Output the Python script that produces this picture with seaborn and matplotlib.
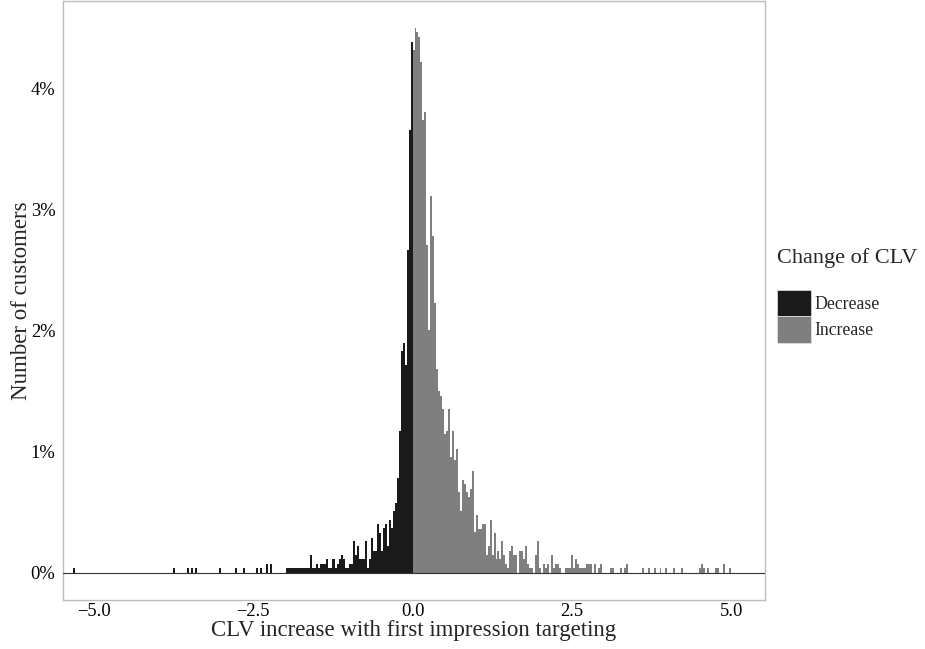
import numpy as np
import pandas as pd
import matplotlib
matplotlib.use('Agg')
import matplotlib.pyplot as plt
import seaborn as sns
from matplotlib.patches import Patch
from matplotlib.ticker import FuncFormatter

# width of one histogram bin (CLV units), bins start at zero
bin_width = 0.031

# % of customers per bin, left of zero (nearest bin first)
decrease_pct = [4.39, 3.66, 2.67, 1.72, 1.90, 1.83, 1.17, 0.78, 0.58, 0.51,
                0.37, 0.44, 0.22, 0.40, 0.37, 0.18, 0.33, 0.40, 0.18, 0.18,
                0.29, 0.11, 0.04, 0.26, 0.11, 0.11, 0.11, 0.22, 0.15, 0.26,
                0.07, 0.07, 0.04, 0.04, 0.11, 0.15, 0.11, 0.07, 0.04, 0.11,
                0.11, 0.04, 0.04, 0.11, 0.07, 0.07, 0.07, 0.04, 0.07, 0.04,
                0.04, 0.15, 0.04, 0.04, 0.04, 0.04, 0.04, 0.04, 0.04, 0.04,
                0.04, 0.04, 0.04, 0.04]
# % of customers per bin, right of zero (nearest bin first)
increase_pct = [4.32, 4.50, 4.47, 4.43, 4.22, 3.74, 3.81, 2.71, 2.01, 3.11,
                2.78, 2.23, 1.68, 1.50, 1.46, 1.35, 1.15, 1.17, 1.35, 0.96,
                1.17, 0.93, 1.02, 0.67, 0.51, 0.77, 0.73, 0.67, 0.63, 0.69,
                0.84, 0.34, 0.48, 0.36, 0.36, 0.40, 0.40, 0.15, 0.22, 0.44,
                0.15, 0.33, 0.11, 0.18, 0.11, 0.26, 0.15, 0.07, 0.04, 0.18,
                0.22, 0.15, 0.15, 0.00, 0.18, 0.18, 0.11, 0.22, 0.07, 0.04,
                0.04, 0.00, 0.15, 0.26, 0.04, 0.00, 0.07, 0.04, 0.07, 0.00,
                0.15, 0.04, 0.07, 0.07, 0.04, 0.00, 0.00, 0.04, 0.04, 0.04,
                0.15, 0.04, 0.11, 0.07, 0.04, 0.04, 0.04, 0.04, 0.07, 0.07,
                0.07, 0.00, 0.07, 0.00, 0.04, 0.07, 0.00, 0.00, 0.00, 0.00,
                0.04, 0.04]
# isolated customers far out in the tails
decrease_tail_x = [-5.32, -3.73, -3.53, -3.47, -3.41, -3.02, -2.76, -2.65,
                   -2.44, -2.37, -2.28, -2.21]
decrease_tail_pct = [0.04, 0.04, 0.04, 0.04, 0.04, 0.04, 0.04, 0.04,
                     0.04, 0.04, 0.07, 0.07]
increase_tail_x = [3.27, 3.33, 3.36, 3.61, 3.69, 3.80, 3.90, 3.99, 4.12,
                   4.23, 4.51, 4.54, 4.57, 4.62, 4.76, 4.79, 4.87, 4.99]
increase_tail_pct = [0.04, 0.04, 0.07, 0.04, 0.04, 0.04, 0.04, 0.04, 0.04,
                     0.04, 0.04, 0.07, 0.04, 0.04, 0.04, 0.04, 0.07, 0.04]

x_ticks = [-5.0, -2.5, 0.0, 2.5, 5.0]
y_ticks = [0, 1, 2, 3, 4]
groups = ['Decrease', 'Increase']
fill_colors = {'Decrease': '#1a1a1a', 'Increase': '#7f7f7f'}

# one row per bin centre, weighted with the share of customers
dec_x = [-(k + 0.5) * bin_width for k in range(len(decrease_pct))]
inc_x = [(k + 0.5) * bin_width for k in range(len(increase_pct))]
df = pd.DataFrame({
    'clv': dec_x + decrease_tail_x + inc_x + increase_tail_x,
    'pct': decrease_pct + decrease_tail_pct + increase_pct + increase_tail_pct,
    'change': ['Decrease'] * (len(dec_x) + len(decrease_tail_x))
              + ['Increase'] * (len(inc_x) + len(increase_tail_x)),
})

sns.set_style('white')
plt.rcParams['font.family'] = ['Liberation Serif', 'DejaVu Serif']

fig = plt.figure(figsize=(9.25, 6.49), dpi=100)
ax = fig.add_axes([63 / 925, 1 - 600 / 649, (765 - 63) / 925, 599 / 649])

sns.histplot(data=df, x='clv', weights='pct', hue='change', hue_order=groups,
             palette=fill_colors, binwidth=bin_width,
             binrange=(-180 * bin_width, 170 * bin_width),
             multiple='layer', alpha=1, linewidth=0, antialiased=False,
             legend=False, ax=ax)

ax.axhline(0, color='#333333', lw=0.8, zorder=3)

ax.set_xlim(-5.484, 5.53)
ax.set_ylim(-0.225, 4.725)
ax.set_xticks(x_ticks)
ax.set_yticks(y_ticks)
ax.xaxis.set_major_formatter(FuncFormatter(lambda v, p: '{:.1f}'.format(v).replace('-', '\u2212')))
ax.yaxis.set_major_formatter(FuncFormatter(lambda v, p: '{:.0f}%'.format(v)))
ax.tick_params(axis='both', direction='out', length=3.5, width=0.8,
               color='#333333', labelsize=13.3, labelcolor='black', pad=2)
ax.tick_params(axis='x', pad=-1.5)
for side in ax.spines.values():
    side.set_color('#bdbdbd')
    side.set_linewidth(1.0)

ax.set_xlabel('CLV increase with first impression targeting', fontsize=16.5, labelpad=0.5)
ax.set_ylabel('Number of customers', fontsize=16.5, labelpad=-1)

# legend: title and keys placed to the right of the panel
fig.text(777 / 925, 1 - 258 / 649, 'Change of CLV', ha='left', va='center', fontsize=16)
handles = [Patch(facecolor=fill_colors[g], edgecolor='#e5e5e5', linewidth=0.5) for g in groups]
fig.legend(handles, groups, loc='upper left', bbox_to_anchor=(777 / 925, 1 - 290 / 649),
           frameon=False, fontsize=12.8, handlelength=1.91, handleheight=1.91,
           handletextpad=0.2, labelspacing=0, borderpad=0, borderaxespad=0)

fig.savefig('out.png', dpi=100)
